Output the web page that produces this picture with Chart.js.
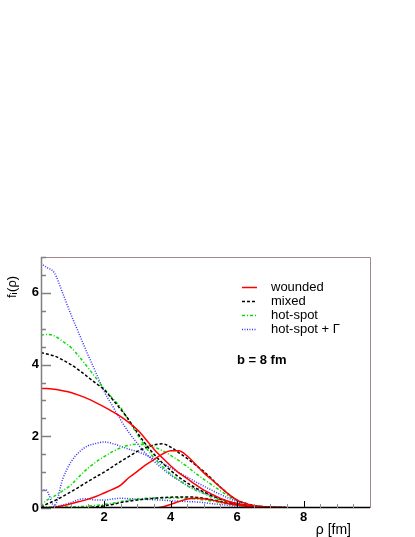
<!DOCTYPE html>
<html>
<head>
<meta charset="utf-8">
<script src="https://cdn.jsdelivr.net/npm/chart.js@4.4.1/dist/chart.umd.min.js"></script>
<style>
html,body{margin:0;padding:0;background:#fff;}
#container{width:415px;height:537px;}
</style>
</head>
<body>
<div id="container"><canvas id="canvas" width="415" height="537"></canvas></div>
<script>
// rho grid [fm]
var rho = [0.1,0.25,0.5,0.75,1.0,1.25,1.5,1.75,2.0,2.25,2.5,2.75,3.0,3.25,3.5,3.75,4.0,4.25,4.5,4.75,5.0,5.25,5.5,5.75,6.0,6.25,6.5,6.75,7.0,7.5,8,9,10];

// wounded
var woundedA = [3.33,3.33,3.31,3.27,3.22,3.14,3.05,2.94,2.82,2.69,2.55,2.38,2.18,1.92,1.64,1.4,1.18,0.98,0.82,0.65,0.5,0.38,0.27,0.18,0.12,0.08,0.05,0.03,0.02,0.01,0,0,0];
var woundedB = [0,0,0.02,0.06,0.12,0.18,0.24,0.32,0.42,0.52,0.64,0.85,1.02,1.2,1.35,1.5,1.6,1.6,1.45,1.22,0.98,0.78,0.58,0.38,0.22,0.13,0.07,0.04,0.02,0.01,0,0,0];
var woundedC = [0,0,0,0,0,0,0,0,0,0,0,0,0,0,0,0.03,0.1,0.18,0.25,0.27,0.26,0.22,0.17,0.12,0.08,0.05,0.03,0.02,0.01,0,0,0,0];
// mixed
var mixedA = [4.33,4.3,4.24,4.13,4.0,3.84,3.66,3.48,3.3,3.03,2.75,2.45,2.1,1.78,1.5,1.26,1.05,0.86,0.7,0.56,0.45,0.34,0.25,0.18,0.12,0.08,0.05,0.03,0.02,0.01,0,0,0];
var mixedB = [0.02,0.1,0.2,0.32,0.45,0.59,0.73,0.87,1.0,1.15,1.3,1.44,1.58,1.68,1.76,1.79,1.7,1.54,1.38,1.2,1.02,0.8,0.58,0.38,0.22,0.13,0.07,0.04,0.02,0.01,0,0,0];
var mixedC = [0,0,0,0,0,0,0.01,0.03,0.06,0.1,0.15,0.19,0.22,0.25,0.27,0.29,0.3,0.31,0.31,0.3,0.27,0.23,0.18,0.13,0.09,0.06,0.03,0.02,0.01,0,0,0,0];
// hot-spot
var hotA = [4.82,4.84,4.8,4.65,4.48,4.22,3.93,3.63,3.33,3.06,2.8,2.42,2.05,1.7,1.4,1.16,0.95,0.78,0.62,0.5,0.4,0.3,0.22,0.15,0.1,0.07,0.04,0.02,0.01,0.01,0,0,0];
var hotB = [0.05,0.2,0.33,0.48,0.64,0.88,1.1,1.28,1.43,1.57,1.68,1.75,1.78,1.76,1.7,1.6,1.47,1.32,1.15,0.97,0.8,0.64,0.48,0.33,0.2,0.12,0.06,0.03,0.02,0.01,0,0,0];
var hotC = [0.02,0.02,0.02,0.03,0.03,0.04,0.05,0.07,0.1,0.13,0.18,0.22,0.25,0.27,0.28,0.28,0.28,0.28,0.27,0.25,0.23,0.19,0.15,0.11,0.08,0.05,0.03,0.02,0.01,0,0,0,0];
// hot-spot + Gamma
var gammaA = [6.82,6.72,6.56,6.0,5.4,4.85,4.3,3.78,3.25,2.85,2.45,2.1,1.8,1.52,1.3,1.1,0.92,0.77,0.63,0.52,0.42,0.33,0.25,0.18,0.13,0.09,0.06,0.04,0.02,0.01,0,0,0];
var gammaB = [0.5,0.5,0.05,0.8,1.28,1.56,1.73,1.8,1.84,1.8,1.72,1.64,1.57,1.48,1.37,1.25,1.12,0.99,0.86,0.73,0.61,0.49,0.38,0.27,0.18,0.11,0.06,0.03,0.02,0.01,0,0,0];
var gammaC = [0.02,0.02,0.03,0.08,0.15,0.24,0.26,0.22,0.22,0.25,0.27,0.26,0.25,0.24,0.23,0.22,0.2,0.19,0.18,0.17,0.15,0.12,0.1,0.07,0.05,0.03,0.02,0.01,0.01,0,0,0,0];

var xTicks = [2,4,6,8];
var yTicks = [0,2,4,6];

var models = [
    {label:'wounded', color:'#ff0000', dash:[], width:1.5, series:[woundedA,woundedB,woundedC]},
    {label:'mixed', color:'#000000', dash:[3,2], width:1.5, series:[mixedA,mixedB,mixedC]},
    {label:'hot-spot', color:'#00e000', dash:[3,2,1,2], width:1.5, series:[hotA,hotB,hotC]},
    {label:'hot-spot + \u0393', color:'#3333ff', dash:[1,1.5], width:1.5, series:[gammaA,gammaB,gammaC]}
];

function points(arr){
    return rho.map(function(x,i){ return {x:x, y:arr[i]}; });
}

var datasets = [];
models.forEach(function(m){
    m.series.forEach(function(s){
        datasets.push({
            data: points(s),
            borderColor: m.color,
            borderDash: m.dash,
            borderWidth: m.width,
            pointRadius: 0,
            fill: false,
            cubicInterpolationMode: 'monotone'
        });
    });
});

var rootPlugin = {
    id: 'rootStyle',
    afterDraw: function(chart){
        var ctx = chart.ctx, a = chart.chartArea;
        var xs = chart.scales.x, ys = chart.scales.y;
        ctx.save();
        // frame
        ctx.lineWidth = 1;
        ctx.strokeStyle = '#a08888';
        ctx.beginPath();
        ctx.moveTo(a.left, a.top + 0.5);
        ctx.lineTo(a.right + 0.5, a.top + 0.5);
        ctx.lineTo(a.right + 0.5, a.bottom);
        ctx.stroke();
        // y axis + ticks
        ctx.strokeStyle = '#808080';
        ctx.lineWidth = 1.5;
        ctx.beginPath();
        ctx.moveTo(a.left + 0.5, a.top);
        ctx.lineTo(a.left + 0.5, a.bottom);
        for (var v = 0; v <= 7.001; v += 0.5) {
            var py = Math.round(ys.getPixelForValue(v)) + 0.5;
            var len = (Math.abs(v % 2) < 0.001) ? 10 : 5;
            ctx.moveTo(a.left, py);
            ctx.lineTo(a.left + len, py);
        }
        ctx.stroke();
        // x axis + ticks
        ctx.strokeStyle = '#000';
        ctx.beginPath();
        ctx.moveTo(a.left, a.bottom - 0.5);
        ctx.lineTo(a.right, a.bottom - 0.5);
        ctx.stroke();
        ctx.lineWidth = 1;
        for (var u = 0.5; u < 10; u += 0.5) {
            var px = Math.round(xs.getPixelForValue(u)) + 0.5;
            var major = Math.abs(u % 2) < 0.001;
            ctx.strokeStyle = major ? '#000' : '#909090';
            ctx.beginPath();
            ctx.moveTo(px, a.bottom);
            ctx.lineTo(px, a.bottom - (major ? 7 : 4));
            ctx.stroke();
        }
        // legend
        ctx.textBaseline = 'middle';
        ctx.textAlign = 'left';
        ctx.font = '13px "Liberation Sans", Arial, sans-serif';
        models.forEach(function(m, i){
            var yy = 287 + i * 14;
            ctx.strokeStyle = m.color;
            ctx.lineWidth = m.width;
            ctx.setLineDash(m.dash);
            ctx.beginPath();
            ctx.moveTo(242, yy + 0.5);
            ctx.lineTo(257, yy + 0.5);
            ctx.stroke();
            ctx.setLineDash([]);
            ctx.fillStyle = '#000';
            ctx.fillText(m.label, 271, yy);
        });
        ctx.font = 'bold 13px "Liberation Sans", Arial, sans-serif';
        ctx.fillText('b = 8 fm', 237, 360);
        // x title
        ctx.font = '14px "Liberation Sans", Arial, sans-serif';
        ctx.textAlign = 'right';
        ctx.textBaseline = 'alphabetic';
        ctx.fillText('\u03c1 [fm]', 351, 534);
        // y title f_i(rho)
        ctx.translate(12, 298);
        ctx.rotate(-Math.PI / 2);
        ctx.textAlign = 'left';
        ctx.textBaseline = 'middle';
        ctx.font = '13px "Liberation Sans", Arial, sans-serif';
        ctx.fillText('f', 0, 0);
        var w = ctx.measureText('f').width;
        ctx.font = '9px "Liberation Sans", Arial, sans-serif';
        ctx.fillText('i', w, 3);
        var w2 = w + ctx.measureText('i').width + 0.5;
        ctx.font = '13px "Liberation Sans", Arial, sans-serif';
        ctx.fillText('(\u03c1)', w2, 0);
        ctx.restore();
    }
};

var config = {
    type: 'line',
    data: { datasets: datasets },
    options: {
        responsive: false,
        animation: false,
        devicePixelRatio: 1,
        layout: { padding: { top: 257, right: 45, left: 0, bottom: 0 } },
        plugins: { legend: { display: false }, tooltip: { enabled: false }, title: { display: false } },
        scales: {
            x: {
                type: 'linear',
                min: 0.1,
                max: 10,
                grid: { display: false, drawTicks: false },
                border: { display: false },
                ticks: { color: '#000', padding: 2, font: { family: '"Liberation Sans", Arial, sans-serif', size: 13, weight: 'bold' } },
                afterBuildTicks: function(s){ s.ticks = xTicks.map(function(v){ return {value:v}; }); },
                afterFit: function(s){ s.height = 29; }
            },
            y: {
                min: 0,
                max: 7,
                grid: { display: false, drawTicks: false },
                border: { display: false },
                ticks: { color: '#000', padding: 2, font: { family: '"Liberation Sans", Arial, sans-serif', size: 13, weight: 'bold' } },
                afterBuildTicks: function(s){ s.ticks = yTicks.map(function(v){ return {value:v}; }); },
                afterFit: function(s){ s.width = 41; }
            }
        }
    },
    plugins: [rootPlugin]
};

var context = document.getElementById('canvas').getContext('2d');
window.myChart = new Chart(context, config);
</script>
</body>
</html>
